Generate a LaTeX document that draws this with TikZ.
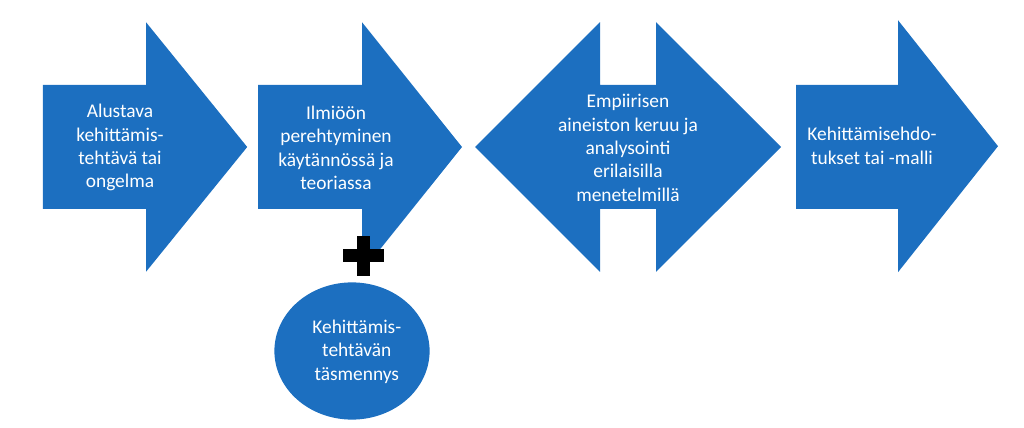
\documentclass[tikz,border=0pt]{standalone}
\usepackage{fontspec}
\setmainfont{Carlito}
\usepackage{tikz}
\usetikzlibrary{shapes.geometric,positioning,calc}
\definecolor{stepblue}{RGB}{28,111,192}

\begin{document}
\begin{tikzpicture}[
  blk/.style={fill=stepblue},
  txt/.style={text=white, align=center, font=\fontsize{13.8}{16.6}\selectfont},
  plusbar/.style={line width=0.32cm, black}
]
\useasboundingbox (0,0) rectangle (25.6,10.675);

% ======= Nuolet =======
\fill[blk] (1.07,8.55) -- (3.65,8.55) -- (3.65,10.12) -- (6.18,7.0)
  -- (3.65,3.88) -- (3.65,5.45) -- (1.07,5.45) -- cycle;
\fill[blk] (6.45,8.55) -- (9.05,8.55) -- (9.05,10.12) -- (11.55,7.0)
  -- (9.05,3.88) -- (9.05,5.45) -- (6.45,5.45) -- cycle;
\fill[blk] (11.88,7.0) -- (15.0,10.12) -- (15.0,8.55) -- (16.4,8.55)
  -- (16.4,10.12) -- (19.53,7.0) -- (16.4,3.88) -- (16.4,5.45)
  -- (15.0,5.45) -- (15.0,3.88) -- cycle;
\fill[blk] (19.9,8.55) -- (22.45,8.55) -- (22.45,10.17) -- (24.95,7.02)
  -- (22.45,3.87) -- (22.45,5.45) -- (19.9,5.45) -- cycle;

% ======= Tekstit =======
\node[txt] (alku) at (3.0,6.98) {Alustava\\kehittämis-\\tehtävä tai\\ongelma};
\node[txt] (ilmio) at (8.4,6.98) {Ilmiöön\\perehtyminen\\käytännössä ja\\teoriassa};
\node[txt] (empiria) at (15.7,6.98) {Empiirisen\\aineiston keruu ja\\analysointi\\erilaisilla\\menetelmillä};
\node[txt] (malli) at (21.8,7.03) {Kehittämisehdo-\\tukset tai -malli};

% ======= Plus ja täsmennys =======
\draw[plusbar] (9.09,3.78) -- (9.09,4.78);
\draw[plusbar] (8.58,4.28) -- (9.60,4.28);
\node[blk, ellipse, minimum width=3.88cm, minimum height=3.43cm]
  (tasm) at (8.8,1.9) {};
\node[txt] (tasmteksti) at (8.92,1.88) {Kehittämis-\\tehtävän\\täsmennys};

\end{tikzpicture}
\end{document}
